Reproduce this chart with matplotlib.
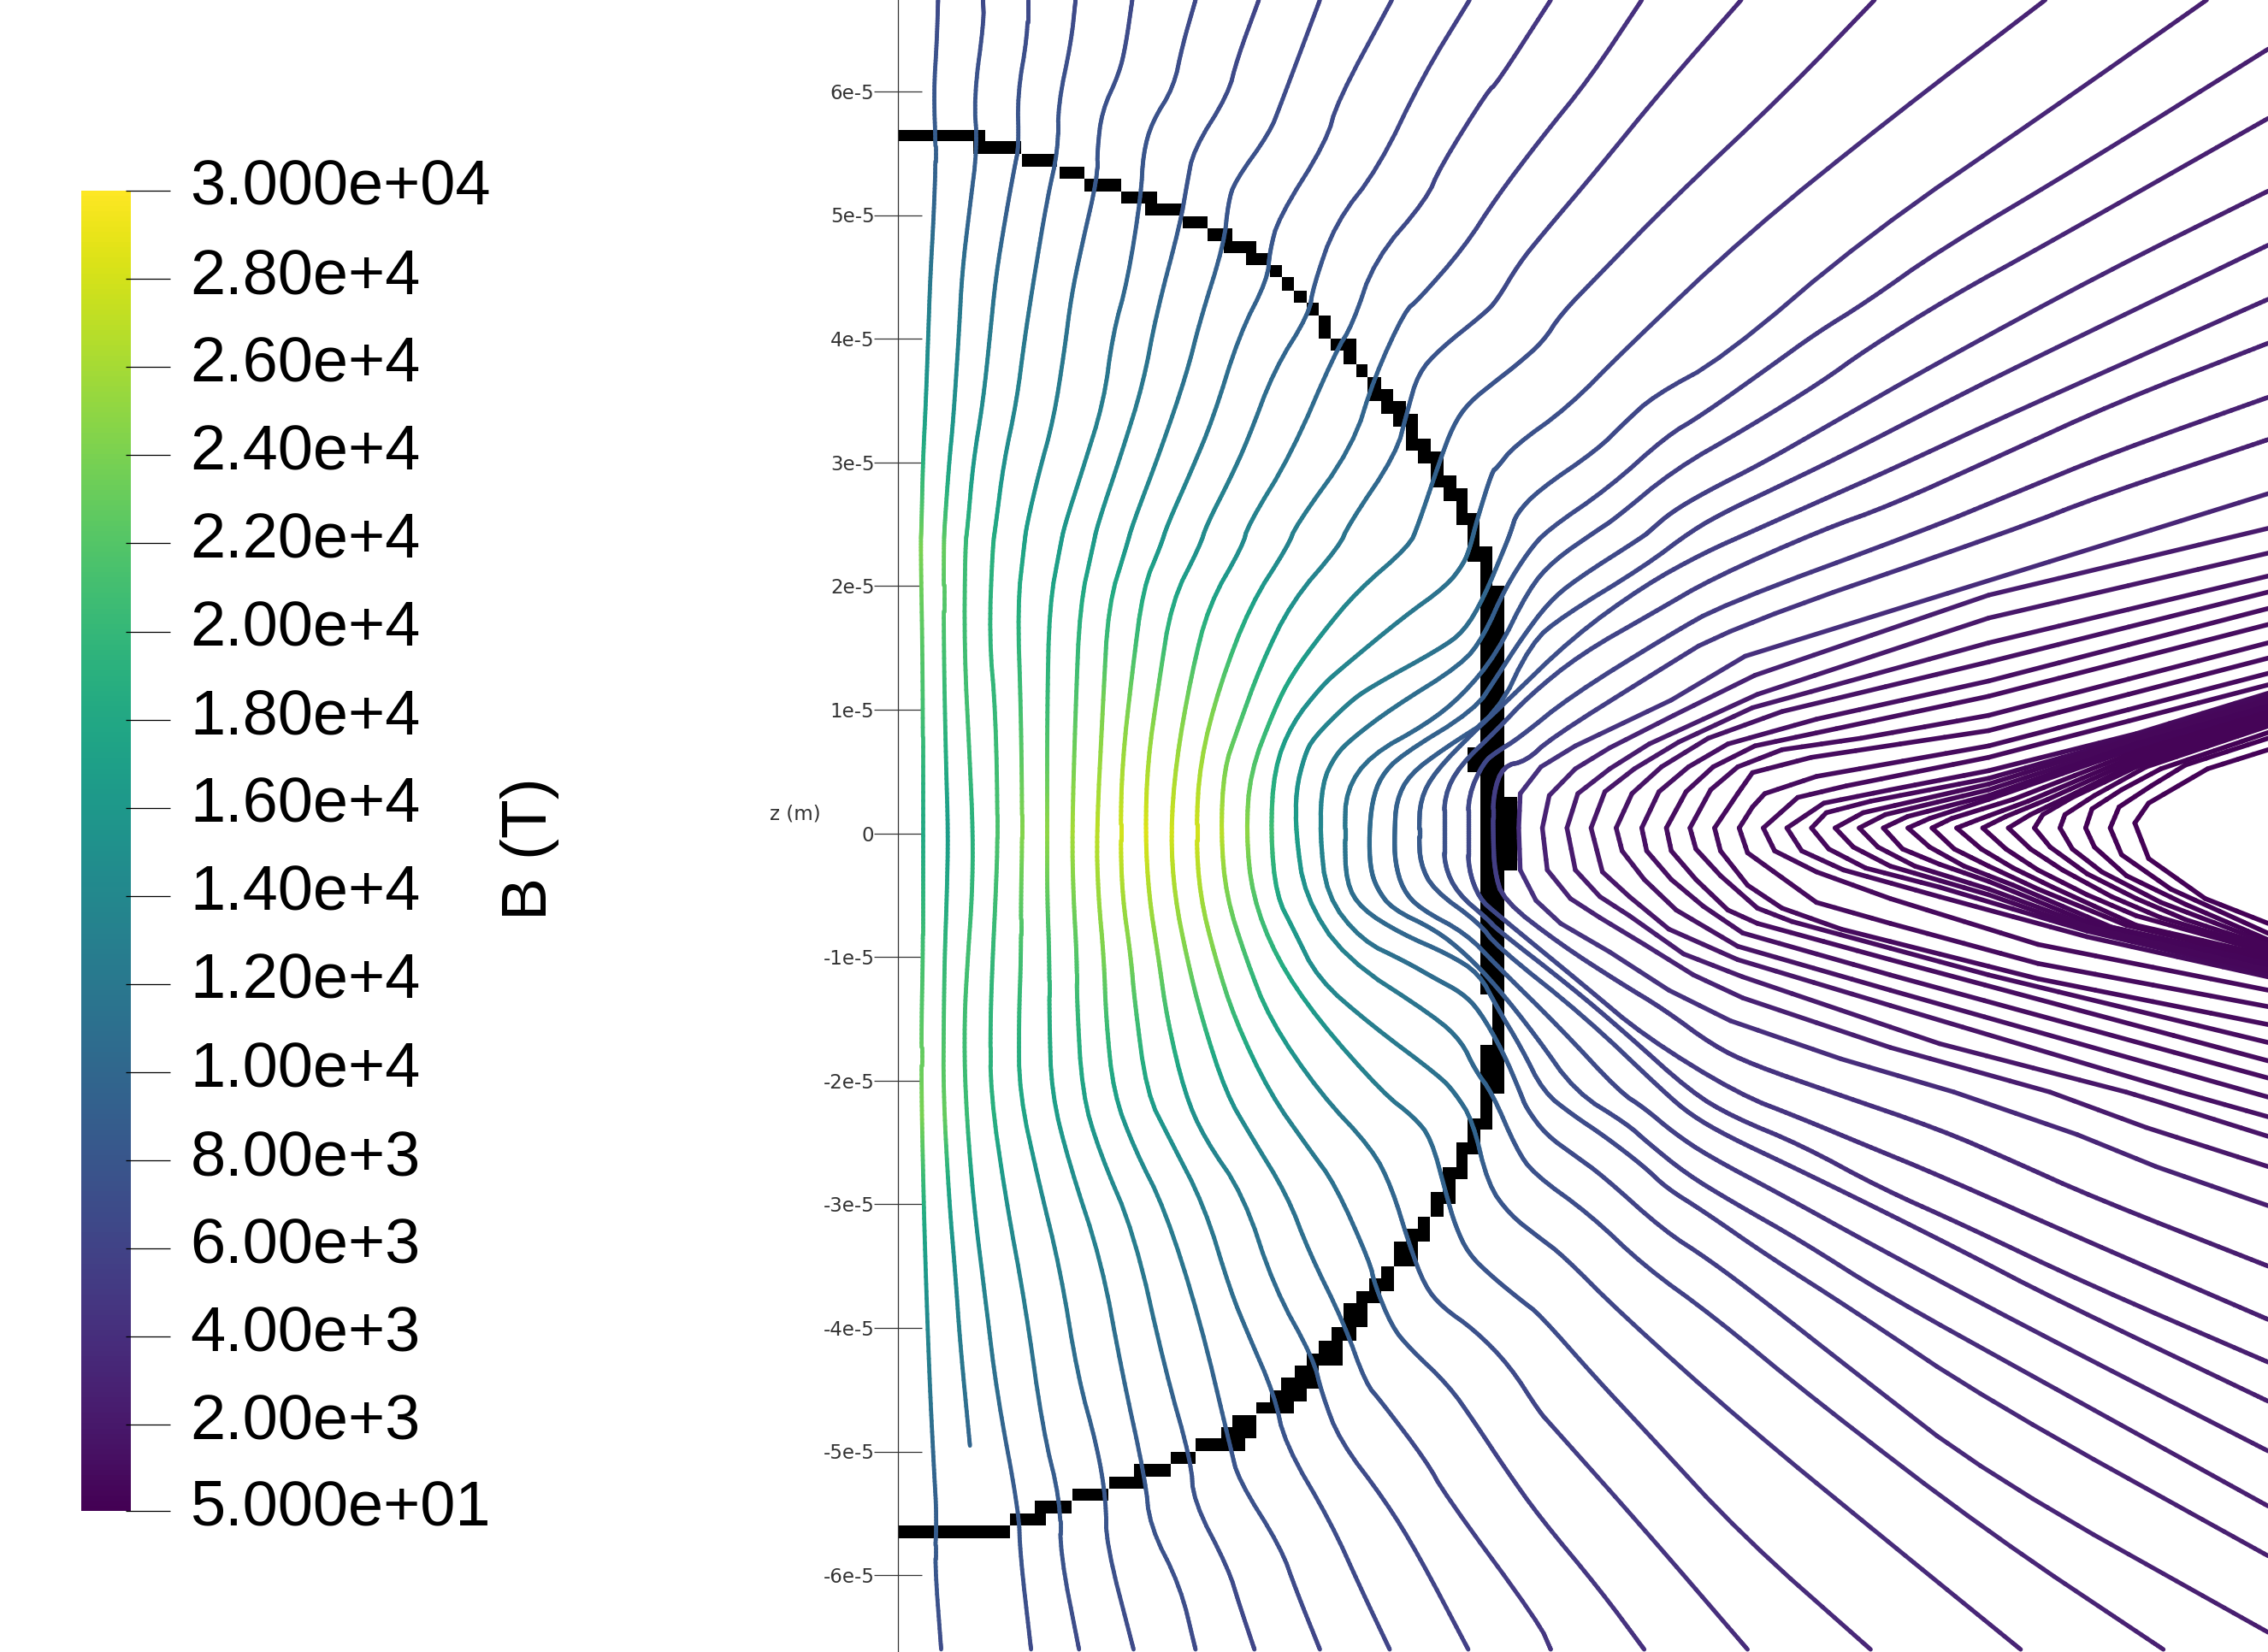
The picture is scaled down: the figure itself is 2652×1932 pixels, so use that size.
import numpy as np
import matplotlib
matplotlib.use("Agg")
import matplotlib.pyplot as plt
from matplotlib.collections import LineCollection
from matplotlib.transforms import ScaledTranslation

W, H = 2652, 1932

# Colour bar values
B_TICKS = [50, 2000, 4000, 6000, 8000, 10000, 12000, 14000, 16000, 18000, 20000,
           22000, 24000, 26000, 28000, 30000]
B_LABELS = ["5.000e+01", "2.00e+3", "4.00e+3", "6.00e+3", "8.00e+3", "1.00e+4", "1.20e+4",
            "1.40e+4", "1.60e+4", "1.80e+4", "2.00e+4", "2.20e+4", "2.40e+4", "2.60e+4",
            "2.80e+4", "3.000e+04"]
Z_TICKS = [-6, -5, -4, -3, -2, -1, 0, 1, 2, 3, 4, 5, 6]
Z_LABELS = ["-6e-5", "-5e-5", "-4e-5", "-3e-5", "-2e-5", "-1e-5", "0",
            "1e-5", "2e-5", "3e-5", "4e-5", "5e-5", "6e-5"]

# Field lines digitised as (reading frame, x, y, x, y, ...)
L01 = [('A', 190,0, 187,120, 180,263, 185,440, 180,618, 172,795, 167,973, 162,1150, 155,1328, 152,1505),
       ('B', 150,0, 155,380, 155,824, 155,1002, 155,1180, 152,1357, 152,1568),
       ('C', 155,200, 160,450, 170,800, 180,1050, 187,1200, 182,1320, 197,1568)]
L02 = [('A', 293,0, 295,60, 272,280, 280,420, 262,600, 245,780, 238,950, 225,1200, 215,1330, 205,1505),
       ('B', 203,0, 203,300, 208,620, 213,824, 210,1002, 205,1180, 203,1357, 202,1568),
       ('C', 215,300, 230,520, 240,700, 263,995)]
L03 = [('A', 395,0, 395,100, 372,270, 375,420, 365,480, 345,618, 322,795, 308,973, 293,1150, 270,1328, 258,1505),
       ('B', 252,0, 250,300, 262,600, 270,824, 268,1002, 258,1180, 250,1357, 252,1568),
       ('C', 270,300, 300,600, 325,850, 375,1180, 378,1300, 403,1568)]
L04 = [('A', 505,0, 495,120, 465,300, 465,430, 440,570, 410,795, 388,973, 370,1150, 340,1328, 322,1505),
       ('B', 315,0, 307,260, 322,480, 327,824, 322,1002, 315,1180, 310,1357, 310,1568),
       ('C', 345,300, 390,600, 430,950, 470,1150, 470,1300, 513,1568)]
L05 = [('A', 635,0, 620,130, 605,210, 565,320, 555,430, 555,510, 520,700, 495,850, 480,1000, 455,1200, 420,1360, 393,1505),
       ('B', 387,0, 372,170, 380,480, 383,824, 380,1002, 380,1180, 375,1357, 376,1568),
       ('C', 420,250, 470,500, 510,800, 555,1000, 575,1150, 575,1270, 638,1568)]
L06 = [('A', 780,0, 750,130, 730,250, 680,350, 660,440, 655,560, 625,800, 590,960, 570,1150, 520,1350, 480,1505),
       ('B', 470,0, 445,170, 440,470, 440,824, 440,1002, 445,1180, 445,1357, 450,1568),
       ('C', 490,200, 565,480, 610,780, 665,1090, 675,1220, 745,1390, 780,1568)]
L07 = [('A', 925,0, 875,170, 855,270, 775,430, 760,530, 745,640, 690,900, 660,1100, 610,1300, 555,1505),
       ('B', 545,0, 515,170, 505,470, 497,824, 500,1002, 508,1180, 508,1300, 520,1568),
       ('C', 560,170, 640,400, 710,780, 770,1040, 775,1150, 855,1340, 880,1440, 915,1568)]
L08 = [('A', 1065,0, 975,300, 950,380, 870,520, 855,580, 845,700, 790,920, 760,1070, 700,1290, 635,1505),
       ('B', 622,0, 580,170, 568,450, 553,824, 557,1002, 570,1180, 575,1357, 592,1568),
       ('C', 640,160, 710,330, 790,640, 860,1000, 878,1090, 975,1280, 1010,1400, 1065,1568)]
L09 = [('A', 1230,0, 1105,290, 1080,405, 970,625, 950,720, 945,800, 880,960, 820,1200, 770,1350, 715,1505),
       ('B', 700,0, 660,120, 635,360, 612,620, 608,824, 612,1002, 632,1180, 640,1300, 668,1568),
       ('C', 720,130, 800,320, 860,560, 900,680, 960,850, 985,990, 1090,1210, 1160,1400, 1225,1568)]
L10 = [('A', 1408,0, 1300,220, 1200,480, 1100,640, 1050,820, 1040,900, 960,1060, 900,1260, 860,1370, 805,1505),
       ('B', 790,0, 725,160, 695,400, 670,620, 665,824, 673,1002, 695,1180, 715,1357, 755,1568),
       ('C', 800,130, 890,290, 960,550, 1050,750, 1070,850, 1110,980, 1215,1150, 1290,1300, 1405,1568)]
L11 = [('D', 110,0, 0,248),
       ('A', 1450,260, 1340,480, 1310,570, 1190,745, 1140,930, 1100,1010, 1000,1300, 900,1505),
       ('B', 888,0, 810,170, 770,370, 735,620, 723,824, 732,1002, 760,1180, 795,1357, 850,1568),
       ('C', 905,120, 990,290, 1040,450, 1120,650, 1170,820, 1205,870, 1310,1040, 1350,1130, 1568,1495),
       ('F', 110,1568)]
L12 = [('D', 295,0, 190,230, 90,410, 0,583),
       ('A', 1395,710, 1290,860, 1260,890, 1190,1080, 1140,1280, 1010,1505),
       ('B', 992,0, 905,170, 835,400, 790,620, 781,824, 790,1002, 825,1180, 870,1357, 950,1568),
       ('C', 1040,160, 1100,260, 1180,480, 1190,540, 1230,660, 1270,720, 1360,825, 1420,930, 1490,1060, 1568,1195),
       ('F', 210,1400, 300,1568)]
L13 = [('D', 497,0, 340,260, 200,510, 95,690, 45,780, 0,890),
       ('A', 1440,900, 1340,1000, 1290,1070, 1265,1180, 1240,1300, 1130,1505),
       ('B', 1110,0, 1000,160, 930,340, 875,530, 845,640, 838,824, 850,1002, 895,1180, 950,1357, 1065,1568),
       ('C', 1185,160, 1230,270, 1270,430, 1305,545, 1345,605, 1420,670, 1500,770, 1568,900),
       ('F', 110,935, 300,1230, 510,1568)]
L14 = [('D', 768,0, 590,270, 350,600, 210,810, 130,930, 95,1010, 40,1080, 0,1125),
       ('A', 1405,1155, 1370,1220, 1340,1320, 1290,1505),
       ('B', 1270,0, 1150,130, 1070,250, 1000,370, 960,470, 905,650, 896,824, 910,1002, 965,1180, 1060,1357, 1210,1568),
       ('C', 1280,70, 1320,130, 1355,290, 1375,375, 1405,455, 1460,520, 1530,590, 1568,625),
       ('F', 205,810, 300,950, 500,1250, 760,1568)]
L15 = [('D', 1115,0, 800,350, 510,690, 260,1035, 145,1205, 35,1320, 0,1385),
       ('A', 1460,1350, 1425,1490),
       ('B', 1410,0, 1395,50, 1355,115, 1255,205, 1115,350, 1070,400, 1000,510, 960,640, 952,824,
        965,1002, 1005,1100, 1060,1240, 1180,1370, 1340,1520, 1375,1568),
       ('C', 1415,80, 1450,260, 1500,345, 1568,410),
       ('F', 135,460, 250,620, 500,930, 800,1270, 1065,1568)]
L16 = [('D', 1443,0, 1130,320, 750,700, 460,1060, 320,1170, 260,1250, 205,1330, 85,1450, 40,1520, 30,1568),
       ('B', 1490,0, 1440,150, 1395,245, 1340,295, 1180,405, 1130,450, 1050,550, 1030,600, 1010,700, 1010,824,
        1030,1002, 1120,1180, 1330,1350, 1390,1420, 1420,1500, 1460,1568),
       ('F', 40,160, 75,230, 190,345, 300,490, 440,630, 650,870, 1000,1240, 1355,1568)]
L17 = [('D', 1568,145, 1200,480, 900,740, 750,895, 650,985, 560,1080, 415,1230, 345,1290, 228,1443, 103,1568),
       ('E', 65,100),
       ('B', 1490,120, 1440,260, 1390,340, 1230,465, 1140,550, 1100,600, 1070,680, 1065,824,
        1080,1002, 1160,1130, 1260,1190, 1330,1240, 1390,1280, 1430,1330, 1485,1450, 1525,1568),
       ('F', 60,45, 100,120, 160,180, 215,235, 340,390, 430,470, 550,595, 720,780, 1000,1080, 1568,1520)]
L18 = [('D', 1568,350, 1120,720, 920,880, 750,1035, 660,1130, 510,1265, 360,1390, 240,1535, 205,1568),
       ('E', 115,125, 65,200),
       ('B', 1470,310, 1390,430, 1310,510, 1180,600, 1125,700, 1122,824, 1125,965, 1160,1040, 1250,1110, 1360,1170, 1430,1225, 1470,1320),
       ('E', 50,1400),
       ('F', 95,0, 155,65, 220,125, 300,210, 345,270, 420,335, 550,460, 720,610, 1000,870, 1568,1305)]
L19 = [('D', 1568,565, 1230,810, 900,1070, 660,1270, 540,1370, 425,1455, 355,1515, 313,1568),
       ('E', 300,60, 160,175, 105,235, 50,330),
       ('B', 1470,376, 1420,470, 1250,600, 1205,660, 1185,730, 1178,824, 1180,920, 1195,980, 1230,1040, 1330,1100, 1400,1170),
       ('E', 0,1240, 80,1370),
       ('F', 160,0, 265,90, 305,140, 385,230, 480,310, 620,420, 790,570, 1090,800, 1568,1165)]
L20 = [('D', 1568,725, 1050,1090, 900,1200, 700,1350, 550,1455, 470,1510, 398,1568),
       ('E', 300,140, 135,270, 70,340),
       ('B', 1470,485, 1350,580, 1270,655, 1240,730, 1236,824, 1237,905, 1255,985, 1295,1040, 1400,1110),
       ('E', 0,1185, 130,1350),
       ('F', 250,0, 300,45, 360,115, 430,180, 580,290, 750,420, 1060,650, 1568,1010)]
L21 = [('D', 1568,885, 1050,1220, 800,1390, 660,1480, 525,1568),
       ('E', 420,105, 300,190, 155,325, 15,500),
       ('B', 1420,530, 1330,645, 1295,725, 1292,824, 1295,910, 1325,985, 1430,1080),
       ('E', 0,1135, 180,1320),
       ('F', 340,0, 395,65, 470,125, 600,210, 770,325, 950,450, 1130,580, 1568,870)]
L22 = [('D', 1568,1015, 1260,1190, 1020,1350, 800,1495, 660,1568),
       ('E', 440,170, 320,260, 170,370, 65,480),
       ('B', 1470,528, 1385,630, 1350,715, 1350,824, 1350,915, 1380,995, 1450,1070),
       ('E', 0,1090, 150,1240, 260,1360),
       ('F', 395,0, 480,70, 620,150, 780,270, 950,375, 1200,540, 1568,760)]
L23 = [('D', 1568,1175, 1250,1340, 1050,1460, 870,1568),
       ('E', 460,240, 350,320, 150,480, 45,590),
       ('B', 1470,590, 1440,620, 1405,715, 1405,824, 1405,925, 1430,1010),
       ('E', 0,1050, 180,1240, 300,1370),
       ('F', 490,5, 620,75, 750,150, 900,235, 1200,420, 1568,640)]
L24 = [('D', 1568,1300, 1230,1465, 1050,1568),
       ('E', 465,305, 320,420, 110,590, 60,650),
       ('B', 1485,630, 1462,710, 1462,824, 1465,930, 1485,1015),
       ('E', 130,1130, 250,1230, 340,1300, 440,1395, 520,1445, 680,1517),
       ('F', 900,105, 1050,195, 1210,295, 1568,490)]
L25 = [('D', 1568,1460, 1330,1568),
       ('E', 505,375, 355,490, 160,610, 90,665, 48,735, 45,825, 48,935, 80,1015, 130,1075, 230,1150, 350,1250, 475,1330, 700,1430, 930,1517),
       ('F', 1180,120, 1340,210, 1568,320)]
L26 = [('E', 1568,40, 1000,215, 525,425, 360,530, 230,615, 160,670, 107,740, 93,825, 103,935, 150,1010, 210,1060, 300,1130, 400,1210, 500,1270, 800,1400, 1125,1517),
       ('F', 1320,100, 1568,210)]
L27 = [('E', 1568,105, 1000,275, 530,475, 310,605, 230,670, 165,735, 143,825, 160,935, 210,1005, 270,1055, 380,1155, 500,1215, 900,1390, 1280,1517),
       ('F', 1350,30, 1568,125)]
L28 = [('E', 1568,165, 1000,340, 520,510, 370,600, 280,670, 220,730, 192,825, 215,940, 270,1005, 350,1090, 490,1170, 800,1290, 1390,1517),
       ('F', 1568,70)]
L29 = [('E', 1568,207, 1000,390, 580,520, 430,590, 335,665, 275,735, 243,825, 255,885, 300,960, 365,1040, 490,1135, 800,1250, 1568,1530)]
L30 = [('E', 1568,250, 1000,440, 650,540, 470,605, 390,665, 330,730, 295,825, 305,885, 355,960, 420,1030, 500,1100, 800,1210, 1568,1480)]
L31 = [('E', 1568,292, 1000,480, 690,565, 525,610, 440,665, 385,730, 345,825, 355,885, 405,960, 470,1040, 530,1075, 800,1170, 1568,1435)]
L32 = [('E', 1568,340, 1000,530, 740,590, 580,620, 490,665, 435,725, 393,825, 405,880, 455,950, 530,1035, 600,1070, 1000,1210, 1568,1387)]
L33 = [('E', 1568,380, 1000,570, 640,640, 520,680, 490,735, 443,825, 455,885, 510,975, 580,1035, 700,1090, 1100,1220, 1568,1340)]
L34 = [('E', 1568,420, 1000,610, 650,690, 545,735, 520,770, 493,825, 510,890, 580,955, 650,1020, 800,1075, 1100,1180, 1568,1293)]
L35 = [('E', 1568,450, 1000,640, 710,715, 612,745, 542,825, 565,885, 650,940, 800,1010, 1100,1130, 1568,1250)]
L36 = [('E', 1568,472, 1300,578, 1000,675, 800,725, 665,760, 590,825, 620,885, 705,935, 900,1005, 1200,1110, 1568,1215)]
L37 = [('E', 1568,482, 1300,585, 1000,695, 760,755, 670,785, 640,825, 675,880, 750,930, 900,980, 1200,1095, 1568,1207)]
L38 = [('E', 1568,490, 1300,590, 1000,710, 745,785, 688,825, 725,875, 800,925, 1000,1000, 1200,1090, 1568,1199)]
L39 = [('E', 1568,498, 1300,598, 1000,725, 790,790, 737,825, 775,875, 850,925, 1000,985, 1200,1080, 1568,1191)]
L40 = [('E', 1568,506, 1300,605, 1000,740, 835,795, 786,825, 825,880, 900,920, 1000,965, 1200,1070, 1568,1183)]
L41 = [('E', 1568,514, 1300,615, 1000,750, 880,800, 836,825, 880,875, 950,925, 1050,975, 1250,1085, 1568,1175)]
L42 = [('E', 1568,522, 1300,625, 1050,750, 925,800, 885,825, 930,880, 1000,925, 1100,985, 1280,1080, 1568,1167)]
L43 = [('E', 1568,530, 1300,635, 1080,755, 975,805, 935,825, 985,880, 1050,930, 1130,980, 1300,1080, 1568,1159)]
L44 = [('E', 1568,538, 1300,645, 1120,750, 1035,795, 988,825, 1035,880, 1100,935, 1200,1000, 1300,1055, 1568,1151)]
L45 = [('E', 1568,545, 1300,655, 1150,750, 1085,790, 1040,825, 1085,880, 1150,935, 1250,1005, 1350,1060, 1568,1143)]
L46 = [('E', 1568,552, 1300,665, 1170,745, 1110,790, 1093,825, 1125,875, 1200,945, 1300,1010, 1400,1065, 1568,1135)]
L47 = [('E', 1568,558, 1320,665, 1215,740, 1155,790, 1145,825, 1170,880, 1230,940, 1350,1020, 1568,1127)]
L48 = [('E', 1568,575, 1350,670, 1270,725, 1210,775, 1197,825, 1215,875, 1280,950, 1400,1025, 1568,1118)]
L49 = [('E', 1568,590, 1400,660, 1330,715, 1265,770, 1247,825, 1270,895, 1370,985, 1568,1101)]
L50 = [('E', 1568,620, 1445,670, 1325,760, 1297,812, 1325,905, 1440,1010, 1568,1075)]
FIELD_LINES = [L01, L02, L03, L04, L05, L06, L07, L08, L09, L10, L11, L12, L13, L14, L15, L16, L17,
               L18, L19, L20, L21, L22, L23, L24, L25, L26, L27, L28, L29, L30, L31, L32, L33, L34,
               L35, L36, L37, L38, L39, L40, L41, L42, L43, L44, L45, L46, L47, L48, L49, L50]

B_ABS_Z = [0, 1, 2.3, 3, 4, 5, 6.8]
B_LINES = [
    [18, 21, 24, 19, 14, 10, 6.5], [16.5, 20, 23, 17, 13, 9.5, 6.5], [19, 21, 20.5, 16, 12.5, 9, 6.5],
    [21.5, 20, 19, 15, 12, 9, 6.5], [24.5, 21, 17.5, 14, 11.5, 8.5, 6.5], [25, 20.5, 16.5, 14, 11, 8.5, 6.5],
    [26, 22, 16.5, 13.5, 11, 8, 6], [27, 24, 16, 13, 10.5, 8, 6], [28, 24, 16, 12.5, 10, 7.5, 6],
    [28.5, 24, 15, 12, 9.5, 7, 5.5], [28, 24, 14.5, 11.5, 9, 6.5, 4.5], [28, 24, 13.5, 10.5, 8.5, 6, 4],
    [27, 21, 12, 9.5, 7.5, 5.5, 3.5], [25, 19, 11, 9, 7, 5, 3], [21, 15, 10, 8, 6, 4.5, 2.8],
    [17, 13, 8.5, 7, 5.5, 4, 2.5], [14, 11, 7.5, 6, 5, 3.5, 2.2], [12, 9.5, 7, 5.5, 4.5, 3, 2],
    [10.5, 9, 6.5, 5, 4, 2.7, 1.8], [9.5, 8.5, 6, 4.5, 3.5, 2.5, 1.7], [8.5, 8, 5.5, 4, 3, 2.2, 1.6],
    [7.5, 7, 5, 3.5, 2.7, 2, 1.5], [6.5, 6.5, 4.5, 3, 2.5, 1.8, 1.3], [5.5, 5.5, 4, 2.8, 2, 1.5, 1.2],
    [4, 4.5, 3.5, 2.5, 1.7, 1.3, 1], [2.8, 3, 2.2, 1.6, 1.2, 1, 0.9], [2.2, 2.3, 1.7, 1.3, 1.1, 0.9, 0.8],
    [1.8, 1.9, 1.4, 1.1, 0.9, 0.8, 0.7], [1.5, 1.5, 1.2, 1, 0.8, 0.7, 0.6], [1.3, 1.3, 1, 0.9, 0.7, 0.6, 0.6],
]
B_INNER_FAN = [1.1, 1.0, 0.9, 0.9, 0.8, 0.8, 0.7, 0.6, 0.6, 0.5, 0.5, 0.4, 0.4, 0.4, 0.3, 0.3, 0.3, 0.2, 0.2, 0.2]

# Black staircase cells (x0, x1, y0, y1) in the reading frames
SHOCK_A = [(100,297,372,405), (270,380,405,440), (382,462,440,477), (468,525,477,512), (525,610,512,548),
           (610,692,548,582), (665,748,582,618), (750,808,620,653), (808,865,655,690), (845,920,690,725),
           (895,950,725,760), (950,978,760,795), (978,1005,795,832), (1005,1035,832,868), (1035,1062,868,903),
           (1062,1090,903,970), (1090,1148,970,1005), (1120,1148,1005,1043), (1148,1175,1043,1080),
           (1175,1205,1080,1150), (1205,1233,1115,1185), (1233,1262,1150,1222), (1262,1290,1187,1292),
           (1290,1320,1257,1327), (1320,1348,1293,1397), (1348,1377,1363,1435), (1377,1403,1400,1505),
           (1403,1430,1470,1568)]
SHOCK_B = [(1403,1460,0,45), (1432,1460,45,115), (1432,1487,115,1285), (1403,1432,578,647),
           (1487,1517,718,930), (1460,1487,1285,1430), (1432,1487,1430,1568)]
SHOCK_C = [(1432,1460,0,105), (1403,1432,75,175), (1377,1430,143,175), (1347,1403,212,245), (1377,1403,175,212),
           (1347,1375,245,315), (1320,1348,282,350), (1290,1318,350,420), (1262,1318,385,420), (1234,1290,420,490),
           (1205,1234,490,560), (1177,1205,525,592), (1148,1205,560,595), (1120,1175,595,662), (1092,1148,662,700),
           (1092,1118,700,732), (1062,1118,700,770), (1035,1090,735,770), (1007,1062,770,835), (977,1035,803,870),
           (950,1005,840,905), (920,977,873,905), (865,920,908,975), (838,893,943,1010), (780,860,975,1010),
           (723,780,1012,1045), (638,723,1045,1082), (582,665,1082,1115), (497,580,1115,1150), (412,495,1150,1185),
           (355,438,1185,1220), (100,355,1220,1255)]

# Reading frames: (X offset, X per reading, Y offset, Y per reading)
FRAMES = {'A': (1000, 1/1.96, 0, 1/2.45), 'B': (1000, 1/1.96, 638.5, 1/2.45), 'C': (1000, 1/1.96, 1277, 1/2.405),
          'D': (1750, 1/1.738, 0, 1/2.529), 'E': (1750, 1/1.738, 600, 1/2.24), 'F': (1750, 1/1.738, 1277, 1/2.405)}
UNIT_PX, R0_PX, Z0_PX = 144.6, 1049.5, 974.5


def to_data(frame, x, y):
    ox, sx, oy, sy = FRAMES[frame]
    return (ox + np.asarray(x, float) * sx - R0_PX) / UNIT_PX, (Z0_PX - (oy + np.asarray(y, float) * sy)) / UNIT_PX


def round_corners(r, z, passes=2):
    pts = np.column_stack([r, z])
    for _ in range(passes):
        a, b = pts[:-1], pts[1:]
        mid = np.empty((2 * len(a), 2))
        mid[0::2] = 0.75 * a + 0.25 * b
        mid[1::2] = 0.25 * a + 0.75 * b
        pts = np.vstack([pts[:1], mid, pts[-1:]])
    return pts[:, 0], pts[:, 1]


plt.rcParams['font.family'] = ['Liberation Sans', 'DejaVu Sans']
fig = plt.figure(figsize=(W / 100, H / 100), dpi=100, facecolor='white')
ax = fig.add_axes([R0_PX / W, 0, 1 - R0_PX / W, 1])
ax.set_xlim(0, (W - R0_PX) / UNIT_PX)
ax.set_ylim((Z0_PX - H) / UNIT_PX, Z0_PX / UNIT_PX)
for side in ('top', 'right', 'bottom'):
    ax.spines[side].set_visible(False)
ax.spines['left'].set_linewidth(0.9)
ax.spines['left'].set_color('#333333')
ax.set_xticks([])
ax.set_yticks(Z_TICKS, Z_LABELS, family='DejaVu Sans', fontsize=16.5, color='#333333')
ax.tick_params(axis='y', direction='inout', length=41, width=0.9, color='#333333', pad=-1)
ax.set_ylabel('z (m)', rotation=0, family='DejaVu Sans', fontsize=16.5, color='#333333')
ax.yaxis.set_label_coords(-0.0745, 0.5015)

# Black surface
for frame, cells in (('A', SHOCK_A), ('B', SHOCK_B), ('C', SHOCK_C)):
    cells = np.array(cells, float)
    x0, y0 = to_data(frame, cells[:, 0], cells[:, 2])
    x1, y1 = to_data(frame, cells[:, 1], cells[:, 3])
    ax.bar(x0, y1 - y0, width=x1 - x0, bottom=y0, align='edge', color='black', linewidth=0, zorder=2)

# Field lines coloured by |B|
norm = plt.Normalize(B_TICKS[0], B_TICKS[-1])
for i, line in enumerate(FIELD_LINES):
    rs, zs = [], []
    for piece in line:
        vals = piece[1:]
        r, z = to_data(piece[0], vals[0::2], vals[1::2])
        rs.extend(r)
        zs.extend(z)
    rs, zs = np.array(rs), np.array(zs)
    if i < 24:
        rs, zs = round_corners(rs, zs)
    t = np.arange(len(rs))
    ft = np.linspace(0, len(rs) - 1, (len(rs) - 1) * 4 + 1)
    fr, fz = np.interp(ft, t, rs), np.interp(ft, t, zs)
    if i < len(B_LINES):
        kt = np.interp(np.abs(fz), B_ABS_Z, B_LINES[i])
    else:
        kt = np.full_like(fz, B_INNER_FAN[i - len(B_LINES)])
    pts = np.column_stack([fr, fz]).reshape(-1, 1, 2)
    segs = np.concatenate([pts[:-1], pts[1:]], axis=1)
    lw = 3.4 + min(i, 30) * 0.02
    lc = LineCollection(segs, cmap='viridis', norm=norm, linewidths=lw, capstyle='round', zorder=3)
    lc.set_array(0.5 * (kt[:-1] + kt[1:]) * 1000)
    ax.add_collection(lc)

# Colour bar
cax = fig.add_axes([95 / W, 1 - 1767 / H, 58 / W, (1767 - 223) / H])
grad = np.linspace(B_TICKS[0], B_TICKS[-1], 512).reshape(-1, 1)
cax.imshow(grad, origin='lower', aspect='auto', cmap='viridis', norm=norm,
           extent=[0, 1, B_TICKS[0], B_TICKS[-1]])
for s in cax.spines.values():
    s.set_visible(False)
cax.set_xticks([])
cax.yaxis.tick_right()
cax.set_yticks(B_TICKS, B_LABELS, fontsize=53.2, color='black')
cax.tick_params(axis='y', length=0, pad=50)
shift = ScaledTranslation(0, 10 / 100, fig.dpi_scale_trans)
for lab in cax.get_yticklabels():
    lab.set_transform(lab.get_transform() + shift)
cax.hlines(B_TICKS, 0.9, 1.8, color='black', linewidth=0.9, clip_on=False,
           transform=cax.get_yaxis_transform())
fig.text(620 / W, 1 - 993 / H, 'B (T)', rotation=90, fontsize=54, color='black', ha='center', va='center')

fig.savefig('out.png', dpi=100)
